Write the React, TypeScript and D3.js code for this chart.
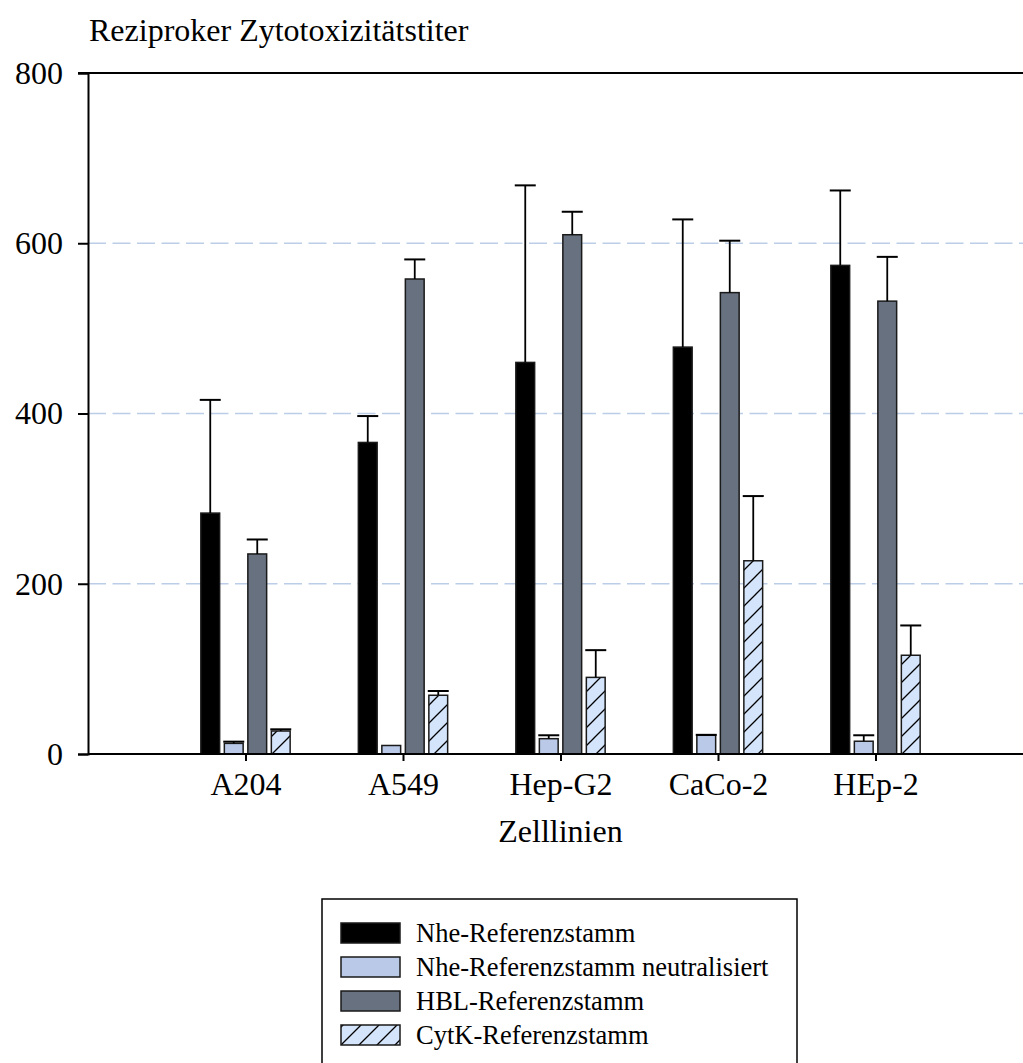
import React, { useEffect, useRef } from "react";
import * as d3 from "d3";

const categories = ["A204", "A549", "Hep-G2", "CaCo-2", "HEp-2"];
const seriesNames = [
  "Nhe-Referenzstamm",
  "Nhe-Referenzstamm neutralisiert",
  "HBL-Referenzstamm",
  "CytK-Referenzstamm",
];
const nheValues = [283, 366, 460, 478, 574];
const nheErrors = [133, 31, 208, 150, 88];
const nheNeutralValues = [12.5, 10, 18, 22, 15];
const nheNeutralErrors = [2, 0, 4, 0.5, 7];
const hblValues = [235, 558, 610, 542, 532];
const hblErrors = [17, 23, 27, 61, 52];
const cytkValues = [27, 69, 90, 227, 116];
const cytkErrors = [2, 5, 32, 76, 35];
const yTicks = [0, 200, 400, 600, 800];

const App = () => {
  const ref = useRef<SVGSVGElement>(null);

  useEffect(() => {
    const width = 1023;
    const svg = d3.select(ref.current);
    svg.selectAll("*").remove();

    const font = "'Liberation Serif', 'Times New Roman', serif";
    const left = 88;
    const top = 73;
    const bottom = 754;

    const y = d3.scaleLinear().domain([0, 800]).range([bottom, top]);
    const x = d3.scalePoint<string>().domain(categories).range([245.5, 875.5]);
    const inner = d3
      .scaleBand<string>()
      .domain(seriesNames)
      .range([-47, 47])
      .paddingInner(0.2)
      .paddingOuter(0.1);

    const fills = ["#000000", "#b9c9e7", "#67717f", "url(#hatch)"];
    const values = [nheValues, nheNeutralValues, hblValues, cytkValues];
    const errors = [nheErrors, nheNeutralErrors, hblErrors, cytkErrors];

    const defs = svg.append("defs");
    const pat = defs
      .append("pattern")
      .attr("id", "hatch")
      .attr("patternUnits", "userSpaceOnUse")
      .attr("width", 18)
      .attr("height", 18);
    pat.append("rect").attr("width", 18).attr("height", 18).attr("fill", "#d4e5fb");
    pat
      .append("path")
      .attr("d", "M0,18 L18,0 M-4,4 L4,-4 M14,22 L22,14")
      .attr("stroke", "#000")
      .attr("stroke-width", 1.3);

    // gridlines
    svg
      .append("g")
      .selectAll("line")
      .data(yTicks.filter((t) => t > 0 && t < 800))
      .enter()
      .append("line")
      .attr("x1", left)
      .attr("x2", width)
      .attr("y1", (d) => y(d))
      .attr("y2", (d) => y(d))
      .attr("stroke", "#bccde8")
      .attr("stroke-width", 1.5)
      .attr("stroke-dasharray", "18,6.5");

    // bars
    seriesNames.forEach((s, si) => {
      const g = svg.append("g");
      g.selectAll("rect")
        .data(categories)
        .enter()
        .append("rect")
        .attr("x", (c) => (x(c) as number) + (inner(s) as number))
        .attr("y", (c, i) => y(values[si][i]))
        .attr("width", inner.bandwidth())
        .attr("height", (c, i) => bottom - y(values[si][i]))
        .attr("fill", fills[si])
        .attr("stroke", "#1a1a1a")
        .attr("stroke-width", 1.5);

      categories.forEach((c, i) => {
        if (errors[si][i] <= 0) return;
        const cx = (x(c) as number) + (inner(s) as number) + inner.bandwidth() / 2;
        const y0 = y(values[si][i]);
        const y1 = y(values[si][i] + errors[si][i]);
        g.append("line")
          .attr("x1", cx)
          .attr("x2", cx)
          .attr("y1", y0)
          .attr("y2", y1)
          .attr("stroke", "#000")
          .attr("stroke-width", 1.8);
        g.append("line")
          .attr("x1", cx - 10.5)
          .attr("x2", cx + 10.5)
          .attr("y1", y1)
          .attr("y2", y1)
          .attr("stroke", "#000")
          .attr("stroke-width", 2);
      });
    });

    // frame lines
    svg.append("line")
      .attr("x1", left - 10).attr("x2", width)
      .attr("y1", top).attr("y2", top)
      .attr("stroke", "#000").attr("stroke-width", 2);
    svg.append("line")
      .attr("x1", left).attr("x2", width)
      .attr("y1", bottom).attr("y2", bottom)
      .attr("stroke", "#000").attr("stroke-width", 2);

    // y axis
    svg.append("g")
      .attr("transform", `translate(${left},0)`)
      .call(d3.axisLeft(y).tickValues(yTicks).tickSize(10).tickPadding(15))
      .call((g) => g.select(".domain").attr("stroke-width", 2))
      .call((g) => g.selectAll(".tick line").attr("stroke-width", 2))
      .call((g) =>
        g.selectAll(".tick text")
          .attr("font-family", font)
          .attr("font-size", 32)
          .attr("fill", "#000")
      );

    // x axis
    svg.append("g")
      .attr("transform", `translate(0,${bottom})`)
      .call(d3.axisBottom(x).tickSize(7).tickPadding(11))
      .call((g) => g.select(".domain").remove())
      .call((g) => g.selectAll(".tick line").attr("stroke-width", 2))
      .call((g) =>
        g.selectAll(".tick text")
          .attr("font-family", font)
          .attr("font-size", 32)
          .attr("fill", "#000")
      );

    svg.append("text")
      .attr("x", 89)
      .attr("y", 41)
      .attr("font-family", font)
      .attr("font-size", 32)
      .text("Reziproker Zytotoxizitätstiter");

    svg.append("text")
      .attr("x", x("Hep-G2") as number)
      .attr("y", 842)
      .attr("text-anchor", "middle")
      .attr("font-family", font)
      .attr("font-size", 32)
      .text("Zelllinien");

    // legend
    const legend = svg.append("g");
    legend.append("rect")
      .attr("x", 322)
      .attr("y", 899)
      .attr("width", 475)
      .attr("height", 180)
      .attr("fill", "#fff")
      .attr("stroke", "#000")
      .attr("stroke-width", 1.5);
    seriesNames.forEach((s, i) => {
      const ly = 923 + i * 34;
      legend.append("rect")
        .attr("x", 341)
        .attr("y", ly)
        .attr("width", 59)
        .attr("height", 20)
        .attr("fill", fills[i])
        .attr("stroke", "#1a1a1a")
        .attr("stroke-width", 1.5);
      legend.append("text")
        .attr("x", 416)
        .attr("y", ly + 19)
        .attr("font-family", font)
        .attr("font-size", 26.5)
        .text(s);
    });
  }, []);

  return (
    <svg
      ref={ref}
      width={1023}
      height={1063}
      style={{ position: "absolute", left: 0, top: 0, background: "#fff" }}
    />
  );
};

export default App;
